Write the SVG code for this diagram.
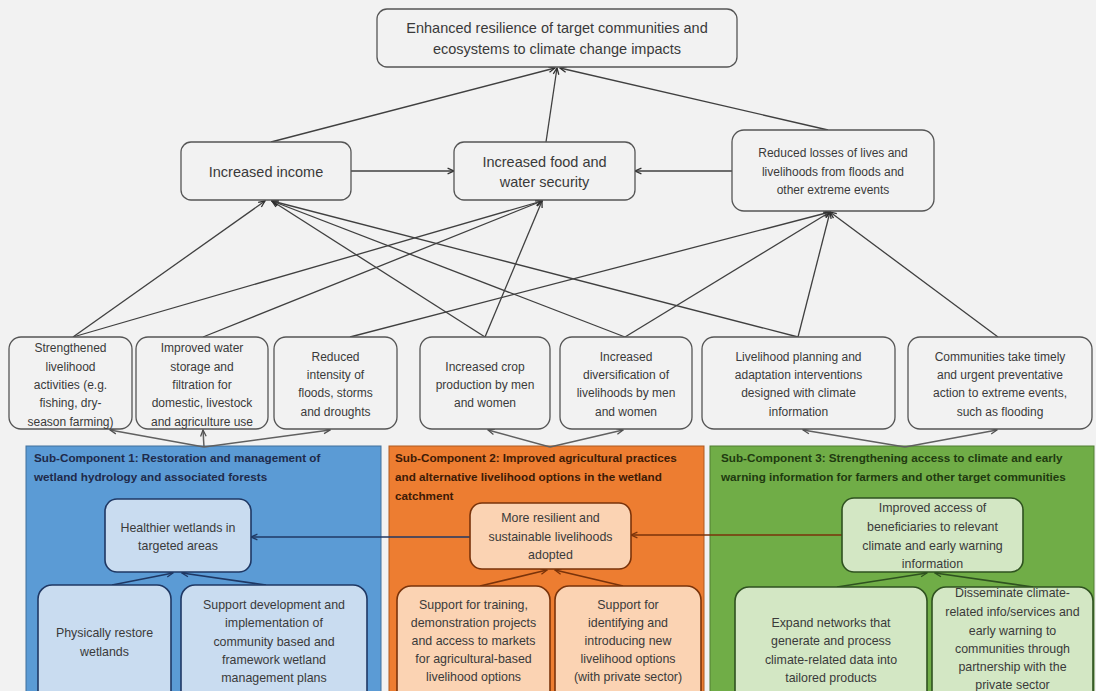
<svg xmlns="http://www.w3.org/2000/svg" width="1096" height="691" viewBox="0 0 1096 691">
<defs>
<style>
.bg{fill:#f2f2f2}
.nd{fill:#f2f2f2;stroke:#555;stroke-width:1.3}
.t{font-family:"Liberation Sans",Arial,sans-serif;fill:#3a3a3a;text-anchor:middle}
.t13{font-size:14.5px}
.t11{font-size:12px}
.t12{font-size:12.4px}
.hd{font-family:"Liberation Sans",Arial,sans-serif;font-size:11.7px;font-weight:bold}
.ln{fill:none;stroke:#404040;stroke-width:1.3}
.lnB{fill:none;stroke:#1f3864;stroke-width:1.6}
.lnO{fill:none;stroke:#7a330a;stroke-width:1.6}
.lnG{fill:none;stroke:#2f5220;stroke-width:1.6}
.fan{fill:none;stroke:#606060;stroke-width:1.5}
.nB{fill:#c9dcf0;stroke:#1f3864;stroke-width:1.6}
.nO{fill:#fbd3b3;stroke:#7a330a;stroke-width:1.6}
.nG{fill:#d3e7c4;stroke:#2f5220;stroke-width:1.6}
</style>
<marker id="a" viewBox="0 0 10 10" refX="9" refY="5" markerWidth="8" markerHeight="8" markerUnits="userSpaceOnUse" orient="auto"><path d="M1,1.5 L9,5 L1,8.5" fill="none" stroke="#303030" stroke-width="1.6"/></marker>
<marker id="af" viewBox="0 0 10 10" refX="9" refY="5" markerWidth="8" markerHeight="8" markerUnits="userSpaceOnUse" orient="auto"><path d="M1,1.5 L9,5 L1,8.5" fill="none" stroke="#505050" stroke-width="1.6"/></marker>
<marker id="aB" viewBox="0 0 10 10" refX="9" refY="5" markerWidth="8" markerHeight="8" markerUnits="userSpaceOnUse" orient="auto"><path d="M1,1.5 L9,5 L1,8.5" fill="none" stroke="#1f3864" stroke-width="1.6"/></marker>
<marker id="aO" viewBox="0 0 10 10" refX="9" refY="5" markerWidth="8" markerHeight="8" markerUnits="userSpaceOnUse" orient="auto"><path d="M1,1.5 L9,5 L1,8.5" fill="none" stroke="#7a330a" stroke-width="1.6"/></marker>
<marker id="aG" viewBox="0 0 10 10" refX="9" refY="5" markerWidth="8" markerHeight="8" markerUnits="userSpaceOnUse" orient="auto"><path d="M1,1.5 L9,5 L1,8.5" fill="none" stroke="#2f5220" stroke-width="1.6"/></marker>
</defs>
<rect class="bg" x="0" y="0" width="1096" height="691"/>

<!-- Panels -->
<g id="panel1">
<rect x="26" y="446" width="355" height="260" fill="#5b9bd5" stroke="#41719c" stroke-width="1"/>
<text class="hd" fill="#1f2a4a" x="34" y="462">Sub-Component 1: Restoration and management of</text>
<text class="hd" fill="#1f2a4a" x="34" y="481">wetland hydrology and associated forests</text>
</g>
<g id="panel2">
<rect x="389" y="446" width="315" height="260" fill="#ed7d31" stroke="#ae5a21" stroke-width="1"/>
<text class="hd" fill="#3d1a05" x="395" y="462">Sub-Component 2: Improved agricultural practices</text>
<text class="hd" fill="#3d1a05" x="395" y="481">and alternative livelihood options in the wetland</text>
<text class="hd" fill="#3d1a05" x="395" y="500">catchment</text>
</g>
<g id="panel3">
<rect x="710" y="446" width="384" height="260" fill="#70ad47" stroke="#507e32" stroke-width="1"/>
<text class="hd" fill="#1f3a10" x="721" y="462">Sub-Component 3: Strengthening access to climate and early</text>
<text class="hd" fill="#1f3a10" x="721" y="481">warning information for farmers and other target communities</text>
</g>

<!-- Connectors -->
<g id="connectors">
<line class="ln" x1="271" y1="142" x2="555" y2="68" marker-end="url(#a)"/>
<line class="ln" x1="546" y1="142" x2="557" y2="68" marker-end="url(#a)"/>
<line class="ln" x1="828" y1="130" x2="560" y2="68" marker-end="url(#a)"/>
<line class="ln" x1="351" y1="171" x2="454" y2="171" marker-end="url(#a)"/>
<line class="ln" x1="732" y1="171" x2="635" y2="171" marker-end="url(#a)"/>

<line class="ln" x1="73" y1="337" x2="265" y2="201" marker-end="url(#a)"/>
<line class="ln" x1="73" y1="337" x2="542" y2="201" marker-end="url(#a)"/>
<line class="ln" x1="203" y1="337" x2="542" y2="201" marker-end="url(#a)"/>
<line class="ln" x1="350" y1="337" x2="830" y2="212" marker-end="url(#a)"/>
<line class="ln" x1="485" y1="337" x2="272" y2="201" marker-end="url(#a)"/>
<line class="ln" x1="485" y1="337" x2="542" y2="201" marker-end="url(#a)"/>
<line class="ln" x1="625" y1="337" x2="272" y2="201" marker-end="url(#a)"/>
<line class="ln" x1="625" y1="337" x2="830" y2="212" marker-end="url(#a)"/>
<line class="ln" x1="798" y1="337" x2="272" y2="201" marker-end="url(#a)"/>
<line class="ln" x1="798" y1="337" x2="830" y2="212" marker-end="url(#a)"/>
<line class="ln" x1="998" y1="337" x2="830" y2="212" marker-end="url(#a)"/>

<line class="fan" x1="204" y1="447" x2="110" y2="430" marker-end="url(#af)"/>
<line class="fan" x1="204" y1="447" x2="203" y2="430" marker-end="url(#af)"/>
<line class="fan" x1="204" y1="447" x2="330" y2="430" marker-end="url(#af)"/>
<line class="fan" x1="550" y1="447" x2="488" y2="430" marker-end="url(#af)"/>
<line class="fan" x1="550" y1="447" x2="623" y2="430" marker-end="url(#af)"/>
<line class="fan" x1="905" y1="447" x2="803" y2="430" marker-end="url(#af)"/>
<line class="fan" x1="905" y1="447" x2="997" y2="430" marker-end="url(#af)"/>

<line class="lnB" x1="112" y1="585" x2="173" y2="573" marker-end="url(#aB)"/>
<line class="lnB" x1="266" y1="585" x2="182" y2="573" marker-end="url(#aB)"/>
<line class="lnB" x1="470" y1="537" x2="251" y2="537" marker-end="url(#aB)"/>
<line class="lnO" x1="480" y1="586" x2="547" y2="570" marker-end="url(#aO)"/>
<line class="lnO" x1="623" y1="586" x2="555" y2="570" marker-end="url(#aO)"/>
<line class="lnO" x1="842" y1="535" x2="631" y2="535" marker-end="url(#aO)"/>
<line class="lnG" x1="837" y1="587" x2="927" y2="573" marker-end="url(#aG)"/>
<line class="lnG" x1="1033" y1="587" x2="935" y2="573" marker-end="url(#aG)"/>
</g>

<!-- Top level -->
<g id="goal">
<rect class="nd" x="377" y="9" width="360" height="58" rx="10"/>
<text class="t t13" x="557" y="33">Enhanced resilience of target communities and</text>
<text class="t t13" x="557" y="54">ecosystems to climate change impacts</text>
</g>
<g id="income">
<rect class="nd" x="181" y="142" width="170" height="58" rx="10"/>
<text class="t t13" x="266" y="177">Increased income</text>
</g>
<g id="food">
<rect class="nd" x="454" y="142" width="181" height="58" rx="10"/>
<text class="t t13" x="544.5" y="167">Increased food and</text>
<text class="t t13" x="544.5" y="187">water security</text>
</g>
<g id="losses">
<rect class="nd" x="732" y="130" width="202" height="81" rx="12"/>
<text class="t t11" x="833" y="157">Reduced losses of lives and</text>
<text class="t t11" x="833" y="176">livelihoods from floods and</text>
<text class="t t11" x="833" y="194">other extreme events</text>
</g>

<!-- Middle row -->
<g id="m1">
<rect class="nd" x="9" y="337" width="123" height="92" rx="12"/>
<text class="t t11" x="70.5" y="352">Strengthened</text>
<text class="t t11" x="70.5" y="371">livelihood</text>
<text class="t t11" x="70.5" y="389">activities (e.g.</text>
<text class="t t11" x="70.5" y="407">fishing, dry-</text>
<text class="t t11" x="70.5" y="426">season farming)</text>
</g>
<g id="m2">
<rect class="nd" x="136" y="337" width="132" height="92" rx="12"/>
<text class="t t11" x="202" y="352">Improved water</text>
<text class="t t11" x="202" y="371">storage and</text>
<text class="t t11" x="202" y="389">filtration for</text>
<text class="t t11" x="202" y="407">domestic, livestock</text>
<text class="t t11" x="202" y="426">and agriculture use</text>
</g>
<g id="m3">
<rect class="nd" x="274" y="337" width="123" height="92" rx="12"/>
<text class="t t11" x="335.5" y="361">Reduced</text>
<text class="t t11" x="335.5" y="379">intensity of</text>
<text class="t t11" x="335.5" y="397">floods, storms</text>
<text class="t t11" x="335.5" y="416">and droughts</text>
</g>
<g id="m4">
<rect class="nd" x="420" y="337" width="130" height="92" rx="12"/>
<text class="t t11" x="485" y="371">Increased crop</text>
<text class="t t11" x="485" y="389">production by men</text>
<text class="t t11" x="485" y="407">and women</text>
</g>
<g id="m5">
<rect class="nd" x="560" y="337" width="132" height="92" rx="12"/>
<text class="t t11" x="626" y="361">Increased</text>
<text class="t t11" x="626" y="379">diversification of</text>
<text class="t t11" x="626" y="397">livelihoods by men</text>
<text class="t t11" x="626" y="416">and women</text>
</g>
<g id="m6">
<rect class="nd" x="702" y="337" width="193" height="92" rx="12"/>
<text class="t t11" x="798.5" y="361">Livelihood planning and</text>
<text class="t t11" x="798.5" y="379">adaptation interventions</text>
<text class="t t11" x="798.5" y="397">designed with climate</text>
<text class="t t11" x="798.5" y="416">information</text>
</g>
<g id="m7">
<rect class="nd" x="908" y="337" width="184" height="92" rx="12"/>
<text class="t t11" x="1000" y="361">Communities take timely</text>
<text class="t t11" x="1000" y="379">and urgent preventative</text>
<text class="t t11" x="1000" y="397">action to extreme events,</text>
<text class="t t11" x="1000" y="416">such as flooding</text>
</g>

<!-- Panel 1 nodes -->
<g id="healthier">
<rect class="nB" x="105" y="499" width="146" height="73" rx="12"/>
<text class="t t12" x="178" y="532">Healthier wetlands in</text>
<text class="t t12" x="178" y="550">targeted areas</text>
</g>
<g id="restore">
<rect class="nB" x="38" y="585" width="133" height="120" rx="14"/>
<text class="t t12" x="104.5" y="637">Physically restore</text>
<text class="t t12" x="104.5" y="656">wetlands</text>
</g>
<g id="plans">
<rect class="nB" x="181" y="585" width="186" height="120" rx="14"/>
<text class="t t12" x="274" y="609">Support development and</text>
<text class="t t12" x="274" y="627">implementation of</text>
<text class="t t12" x="274" y="646">community based and</text>
<text class="t t12" x="274" y="664">framework wetland</text>
<text class="t t12" x="274" y="682">management plans</text>
</g>

<!-- Panel 2 nodes -->
<g id="resilient">
<rect class="nO" x="470" y="503" width="161" height="66" rx="12"/>
<text class="t t12" x="550.5" y="522">More resilient and</text>
<text class="t t12" x="550.5" y="541">sustainable livelihoods</text>
<text class="t t12" x="550.5" y="559">adopted</text>
</g>
<g id="training">
<rect class="nO" x="397" y="586" width="153" height="120" rx="14"/>
<text class="t t12" x="473.5" y="609">Support for training,</text>
<text class="t t12" x="473.5" y="627">demonstration projects</text>
<text class="t t12" x="473.5" y="645">and access to markets</text>
<text class="t t12" x="473.5" y="663">for agricultural-based</text>
<text class="t t12" x="473.5" y="681">livelihood options</text>
</g>
<g id="newoptions">
<rect class="nO" x="555" y="586" width="146" height="120" rx="14"/>
<text class="t t12" x="628" y="609">Support for</text>
<text class="t t12" x="628" y="627">identifying and</text>
<text class="t t12" x="628" y="645">introducing new</text>
<text class="t t12" x="628" y="663">livelihood options</text>
<text class="t t12" x="628" y="681">(with private sector)</text>
</g>

<!-- Panel 3 nodes -->
<g id="access">
<rect class="nG" x="842" y="498" width="181" height="74" rx="12"/>
<text class="t t12" x="932.5" y="512">Improved access of</text>
<text class="t t12" x="932.5" y="531">beneficiaries to relevant</text>
<text class="t t12" x="932.5" y="550">climate and early warning</text>
<text class="t t12" x="932.5" y="568">information</text>
</g>
<g id="networks">
<rect class="nG" x="735" y="587" width="192" height="120" rx="14"/>
<text class="t t12" x="831" y="627">Expand networks that</text>
<text class="t t12" x="831" y="645">generate and process</text>
<text class="t t12" x="831" y="664">climate-related data into</text>
<text class="t t12" x="831" y="682">tailored products</text>
</g>
<g id="disseminate">
<rect class="nG" x="932" y="587" width="161" height="120" rx="14"/>
<text class="t t12" x="1012.5" y="597">Disseminate climate-</text>
<text class="t t12" x="1012.5" y="616">related info/services and</text>
<text class="t t12" x="1012.5" y="635">early warning to</text>
<text class="t t12" x="1012.5" y="653">communities through</text>
<text class="t t12" x="1012.5" y="671">partnership with the</text>
<text class="t t12" x="1012.5" y="689">private sector</text>
</g>
</svg>
